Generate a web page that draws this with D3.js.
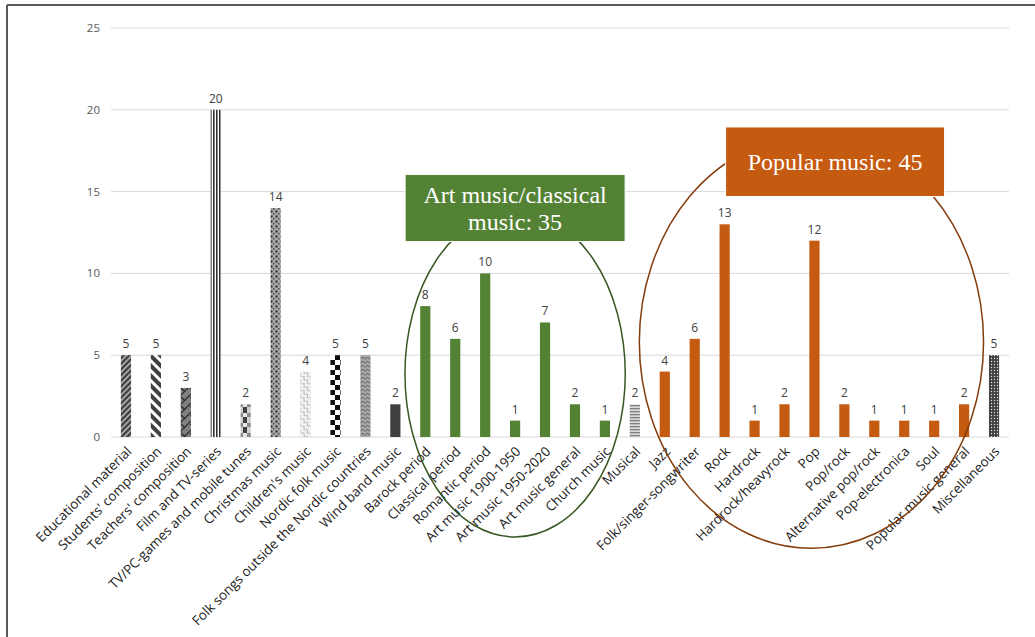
<!DOCTYPE html>
<html>
<head>
<meta charset="utf-8">
<script src="https://cdn.jsdelivr.net/npm/d3@7"></script>
<style>
  body { margin: 0; background: #fff; }
  svg { display: block; }
</style>
</head>
<body>
<div id="vis"></div>
<script>
var width = 1035;
var height = 637;

// data
var categories = ["Educational material", "Students' composition", "Teachers' composition",
  "Film and TV-series", "TV/PC-games and mobile tunes", "Christmas music", "Children's music",
  "Nordic folk music", "Folk songs outside the Nordic countries", "Wind band music",
  "Barock period", "Classical period", "Romantic period", "Art music 1900-1950",
  "Art music 1950-2020", "Art music general", "Church music", "Musical",
  "Jazz", "Folk/singer-songwriter", "Rock", "Hardrock", "Hardrock/heavyrock", "Pop",
  "Pop/rock", "Alternative pop/rock", "Pop-electronica", "Soul", "Popular music general",
  "Miscellaneous"];
var values = [5, 5, 3, 20, 2, 14, 4, 5, 5, 2,
  8, 6, 10, 1, 7, 2, 1, 2,
  4, 6, 13, 1, 2, 12, 2, 1, 1, 1, 2, 5];
var groups = ["other", "other", "other", "other", "other", "other", "other", "other", "other", "other",
  "art", "art", "art", "art", "art", "art", "art", "other",
  "pop", "pop", "pop", "pop", "pop", "pop", "pop", "pop", "pop", "pop", "pop", "other"];
var yTicks = [0, 5, 10, 15, 20, 25];
var artLabel = ["Art music/classical", "music: 35"];
var popLabel = ["Popular music: 45"];

var canvas = d3.select("#vis")
  .append("svg")
  .attr("width", width)
  .attr("height", height);

// frame
canvas.append("line")
  .attr("x1", 7).attr("y1", 5).attr("x2", width).attr("y2", 5)
  .style("stroke", "#595959").style("stroke-width", 2);
canvas.append("line")
  .attr("x1", 7).attr("y1", 5).attr("x2", 7).attr("y2", height)
  .style("stroke", "#595959").style("stroke-width", 2);

const x = d3.scaleBand()
  .domain(categories)
  .range([111, 1009])
  .paddingInner(0.66)
  .paddingOuter(0.33);

const y = d3.scaleLinear()
  .domain([0, 25])
  .range([437, 28]);

// patterns for the grey bars
const defs = canvas.append("defs");

function pat(id, w, h, tf) {
  var p = defs.append("pattern")
    .attr("id", id)
    .attr("patternUnits", "userSpaceOnUse")
    .attr("width", w)
    .attr("height", h);
  if (tf) p.attr("patternTransform", tf);
  return p;
}

var p0 = pat("p0", 4, 4, "rotate(45)");
p0.append("rect").attr("width", 4).attr("height", 4).attr("fill", "#404040");
p0.append("rect").attr("width", 1.4).attr("height", 4).attr("fill", "#c8c8c8");

var p1 = pat("p1", 7, 7, "rotate(-45)");
p1.append("rect").attr("width", 7).attr("height", 7).attr("fill", "#fff");
p1.append("rect").attr("width", 4).attr("height", 7).attr("fill", "#404040");

var p2 = pat("p2", 9, 9);
p2.append("rect").attr("width", 9).attr("height", 9).attr("fill", "#7f7f7f");
p2.append("path").attr("d", "M0,9 L9,0 M-1,1 L1,-1 M8,10 L10,8 M1,1 L5,5")
  .attr("stroke", "#262626").attr("stroke-width", 1.2).attr("fill", "none");

var p3 = pat("p3", 3, 3);
p3.append("rect").attr("width", 3).attr("height", 3).attr("fill", "#fff");
p3.append("rect").attr("width", 1.6).attr("height", 3).attr("fill", "#333");

var p4 = pat("p4", 10, 10);
p4.append("rect").attr("width", 10).attr("height", 10).attr("fill", "#d0d0d0");
p4.append("rect").attr("x", 3).attr("width", 4).attr("height", 10).attr("fill", "#404040");
p4.append("rect").attr("x", 0).attr("y", 3).attr("width", 10).attr("height", 4).attr("fill", "#8a8a8a");
p4.append("rect").attr("x", 3).attr("y", 3).attr("width", 4).attr("height", 4).attr("fill", "#e6e6e6");

var p5 = pat("p5", 5, 5);
p5.append("rect").attr("width", 5).attr("height", 5).attr("fill", "#a6a6a6");
p5.append("rect").attr("x", 0.5).attr("y", 0.5).attr("width", 2).attr("height", 2).attr("fill", "#262626");
p5.append("rect").attr("x", 3).attr("y", 3).attr("width", 1.5).attr("height", 1.5).attr("fill", "#4d4d4d");

var p6 = pat("p6", 5, 5, "rotate(45)");
p6.append("rect").attr("width", 5).attr("height", 5).attr("fill", "#f2f2f2");
p6.append("path").attr("d", "M0,2.5 Q1.25,0 2.5,2.5 T5,2.5")
  .attr("stroke", "#8c8c8c").attr("stroke-width", 1).attr("fill", "none");

var p7 = pat("p7", 10, 10);
p7.append("rect").attr("width", 10).attr("height", 10).attr("fill", "#fff");
p7.append("rect").attr("width", 5).attr("height", 5).attr("fill", "#0d0d0d");
p7.append("rect").attr("x", 5).attr("y", 5).attr("width", 5).attr("height", 5).attr("fill", "#0d0d0d");

var p8 = pat("p8", 5, 4);
p8.append("rect").attr("width", 5).attr("height", 4).attr("fill", "#a6a6a6");
p8.append("path").attr("d", "M0,3.5 L2.5,1 L5,3.5")
  .attr("stroke", "#595959").attr("stroke-width", 1).attr("fill", "none");

var p9 = pat("p9", 3, 3);
p9.append("rect").attr("width", 3).attr("height", 3).attr("fill", "#d9d9d9");
p9.append("rect").attr("width", 3).attr("height", 1.3).attr("fill", "#7f7f7f");

var p10 = pat("p10", 3, 3);
p10.append("rect").attr("width", 3).attr("height", 3).attr("fill", "#404040");
p10.append("circle").attr("cx", 1.5).attr("cy", 1.5).attr("r", 0.7).attr("fill", "#e0e0e0");

var otherFills = {
  "Educational material": "url(#p0)",
  "Students' composition": "url(#p1)",
  "Teachers' composition": "url(#p2)",
  "Film and TV-series": "url(#p3)",
  "TV/PC-games and mobile tunes": "url(#p4)",
  "Christmas music": "url(#p5)",
  "Children's music": "url(#p6)",
  "Nordic folk music": "url(#p7)",
  "Folk songs outside the Nordic countries": "url(#p8)",
  "Wind band music": "#404040",
  "Musical": "url(#p9)",
  "Miscellaneous": "url(#p10)"
};
var groupColor = { art: "#548235", pop: "#c55a11" };

function fillFor(i) {
  if (groups[i] === "other") return otherFills[categories[i]];
  return groupColor[groups[i]];
}

// gridlines + y labels
canvas.append("g")
  .selectAll("line")
  .data(yTicks)
  .enter()
  .append("line")
  .attr("x1", 111).attr("x2", 1009)
  .attr("y1", d => y(d)).attr("y2", d => y(d))
  .style("stroke", "#d9d9d9")
  .style("stroke-width", 1);

canvas.append("g")
  .selectAll("text")
  .data(yTicks)
  .enter()
  .append("text")
  .attr("x", 100)
  .attr("y", d => y(d))
  .attr("dy", "0.35em")
  .attr("text-anchor", "end")
  .style("font-family", "'Open Sans', sans-serif")
  .style("font-size", "11.5px")
  .style("fill", "#595959")
  .text(d => d);

// bars
var data = categories.map((c, i) => ({ cat: c, val: values[i], i: i }));

canvas.append("g")
  .selectAll("rect")
  .data(data)
  .enter()
  .append("rect")
  .attr("x", d => x(d.cat))
  .attr("y", d => y(d.val))
  .attr("width", x.bandwidth())
  .attr("height", d => y(0) - y(d.val))
  .style("fill", d => fillFor(d.i));

canvas.append("g")
  .selectAll("text")
  .data(data)
  .enter()
  .append("text")
  .attr("x", d => x(d.cat) + x.bandwidth() / 2)
  .attr("y", d => y(d.val) - 7)
  .attr("text-anchor", "middle")
  .style("font-family", "'Open Sans', sans-serif")
  .style("font-size", "12px")
  .style("fill", "#404040")
  .text(d => d.val);

// category labels
canvas.append("g")
  .selectAll("text")
  .data(categories)
  .enter()
  .append("text")
  .attr("transform", d => `translate(${x(d) + x.bandwidth() / 2 + 3}, 449) rotate(-45)`)
  .attr("dy", "0.35em")
  .attr("text-anchor", "end")
  .style("font-family", "'Open Sans', sans-serif")
  .style("font-size", "13.4px")
  .style("fill", "#1a1a1a")
  .text(d => d);

// group annotations: ellipses and labelled boxes
var step = x.step();
var artCx = x("Art music 1900-1950") + x.bandwidth() / 2;
var popCx = x("Pop") + x.bandwidth() / 2 - 3;

canvas.append("ellipse")
  .attr("cx", artCx)
  .attr("cy", y(3.85))
  .attr("rx", step * 3.68)
  .attr("ry", y(0) - y(9.96))
  .style("fill", "none")
  .style("stroke", "#385723")
  .style("stroke-width", 1.5);

canvas.append("ellipse")
  .attr("cx", popCx)
  .attr("cy", y(5.8))
  .attr("rx", step * 5.75)
  .attr("ry", y(0) - y(12.6))
  .style("fill", "none")
  .style("stroke", "#843c0c")
  .style("stroke-width", 1.5);

function labelBox(cx, top, w, h, color, lines, lineGap) {
  var g = canvas.append("g");
  g.append("rect")
    .attr("x", cx - w / 2)
    .attr("y", top)
    .attr("width", w)
    .attr("height", h)
    .style("fill", color)
    .style("stroke", "#fff")
    .style("stroke-width", 1);
  var t = g.append("text")
    .attr("text-anchor", "middle")
    .style("font-family", "'Liberation Serif', 'DejaVu Serif', serif")
    .style("font-size", "24px")
    .style("fill", "#fff");
  var startY = top + h / 2 - (lines.length - 1) * lineGap / 2;
  lines.forEach((l, k) => {
    t.append("tspan")
      .attr("x", cx)
      .attr("y", startY + k * lineGap)
      .attr("dy", "0.35em")
      .text(l);
  });
}

labelBox(artCx, y(16.05), 220, y(11.95) - y(16.05), "#548235", artLabel, 27);
labelBox(x("Pop") + x.bandwidth() / 2 + step * 0.69, y(18.95), 219, y(14.7) - y(18.95), "#c55a11", popLabel, 27);
</script>
</body>
</html>
